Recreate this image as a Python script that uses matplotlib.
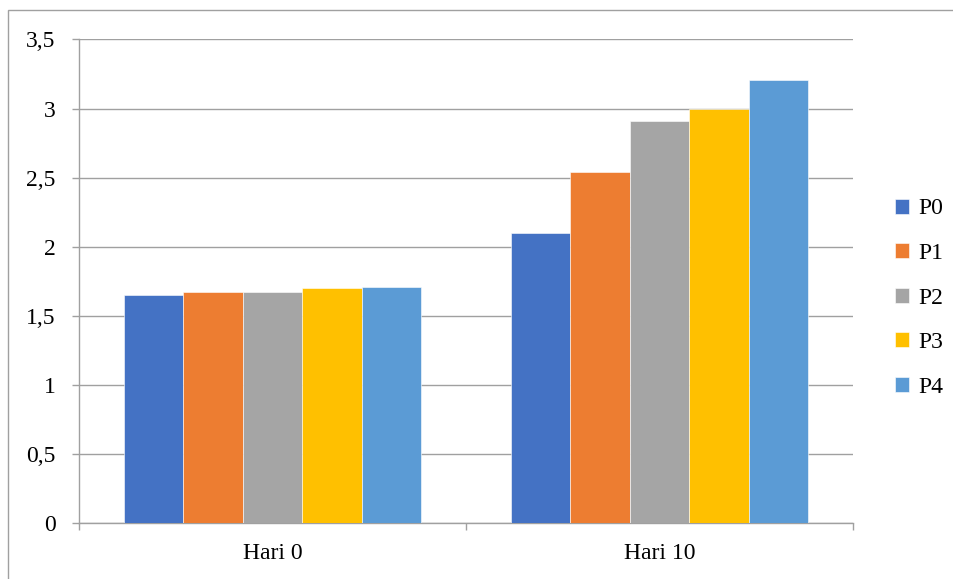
import matplotlib.pyplot as plt
from matplotlib.patches import Rectangle
from matplotlib.ticker import FuncFormatter, FixedLocator
import numpy as np

plt.rcParams['font.family'] = ['Liberation Serif', 'DejaVu Serif']

days = ['Hari 0', 'Hari 10']
series = ['P0', 'P1', 'P2', 'P3', 'P4']
p0 = [1.65, 2.10]
p1 = [1.67, 2.54]
p2 = [1.67, 2.91]
p3 = [1.70, 3.00]
p4 = [1.71, 3.21]
colors = ['#4472C4', '#ED7D31', '#A5A5A5', '#FFC000', '#5B9BD5']

values = [p0, p1, p2, p3, p4]

fig = plt.figure(figsize=(9.54, 5.79), dpi=100)
ax = fig.add_axes([0.0828, 0.0962, 0.8113, 0.8356])

# gap width 150% like the office default
width = 1 / 6.5
x = np.arange(len(days))
for i, (name, vals) in enumerate(zip(series, values)):
    ax.bar(x + (i - 2) * width, vals, width, color=colors[i], label=name,
           edgecolor='white', linewidth=0.4, zorder=3)

ax.set_xlim(-0.5, 1.5)
ax.set_ylim(0, 3.5)
ax.set_yticks(np.arange(0, 3.51, 0.5))
ax.yaxis.set_major_formatter(FuncFormatter(lambda v, p: ('%g' % v).replace('.', ',')))
ax.grid(axis='y', color='#a0a0a0', linewidth=1.0, zorder=0)

ax.set_xticks(x)
ax.set_xticklabels(days)
ax.xaxis.set_minor_locator(FixedLocator([-0.5, 0.5, 1.5]))
ax.tick_params(axis='x', which='major', length=0, pad=14, labelsize=17)
ax.tick_params(axis='x', which='minor', length=5, width=1.0, color='#a0a0a0')
ax.tick_params(axis='y', length=5, width=1.0, color='#a0a0a0', pad=12, labelsize=17)

for side in ['top', 'right']:
    ax.spines[side].set_visible(False)
for side in ['left', 'bottom']:
    ax.spines[side].set_color('#a0a0a0')
    ax.spines[side].set_linewidth(1.0)

leg = ax.legend(loc='center left', bbox_to_anchor=(0.938, 0.485),
                bbox_transform=fig.transFigure, frameon=False, fontsize=17,
                handlelength=0.6, handleheight=0.6, handletextpad=0.4,
                labelspacing=1.0, borderpad=0, borderaxespad=0)

# chart frame
fig.patches.append(Rectangle((8 / 954, -0.01), 1.0, 1.01 - 10 / 579,
                             transform=fig.transFigure, fill=False,
                             edgecolor='#a0a0a0', linewidth=1.0))

fig.savefig('out.png', dpi=100)
